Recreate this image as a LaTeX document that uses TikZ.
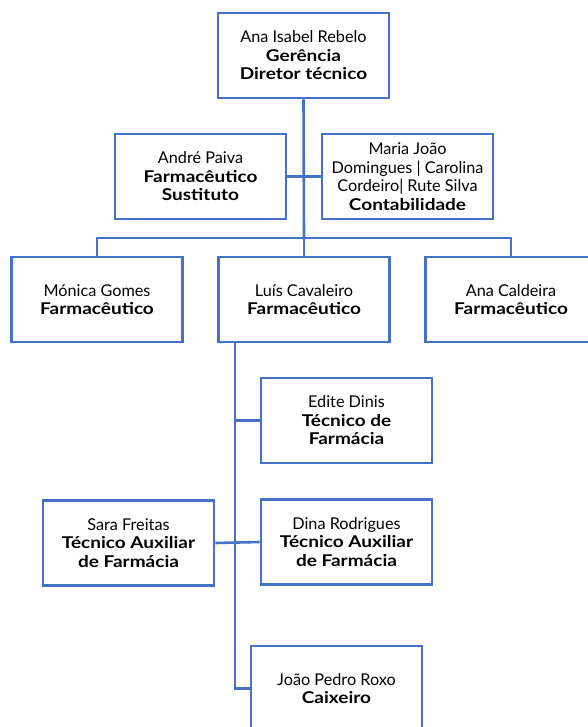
\documentclass[tikz,border=0pt]{standalone}
\usepackage{fontspec}
\setmainfont{Lato}[BoldFeatures={FakeStretch=1.17}]
\definecolor{orgblue}{HTML}{4472C4}

\begin{document}
\begin{tikzpicture}[x=1bp, y=-1bp,
  every node/.style={font=\fontsize{16.3}{18.5}\selectfont},
  box/.style={draw=orgblue, line width=2.6bp, fill=white, align=center,
    inner sep=2bp, minimum width=171bp, minimum height=85bp},
  link/.style={draw=orgblue, line width=2.6bp}]
  \useasboundingbox (0,0) rectangle (588,727);
  \clip (0,0) rectangle (588,727);

  % boxes
  \node[box] (top) at (303.5,55.5) {Ana Isabel Rebelo\\\textbf{Gerência}\\\textbf{Diretor técnico}};
  \node[box] (andre) at (200.5,176.5) {André Paiva\\\textbf{Farmacêutico}\\\textbf{Sustituto}};
  \node[box] (maria) at (407.5,176.5) {Maria João\\Domingues | Carolina\\Cordeiro| Rute Silva\\\textbf{Contabilidade}};
  \node[box] (monica) at (97,299.5) {Mónica Gomes\\\textbf{Farmacêutico}};
  \node[box] (luis) at (304,299.5) {Luís Cavaleiro\\\textbf{Farmacêutico}};
  \node[box] (anac) at (511,299.5) {Ana Caldeira\\\textbf{Farmacêutico}};
  \node[box] (edite) at (346.5,420.5) {Edite Dinis\\\textbf{Técnico de}\\\textbf{Farmácia}};
  \node[box] (sara) at (128.5,543) {Sara Freitas\\\textbf{Técnico Auxiliar}\\\textbf{de Farmácia}};
  \node[box] (dina) at (346.5,542) {Dina Rodrigues\\\textbf{Técnico Auxiliar}\\\textbf{de Farmácia}};
  \node[box] (joao) at (336.5,688.5) {João Pedro Roxo\\\textbf{Caixeiro}};

  % trunk
  \coordinate (split) at (304,238);
  \draw[link] (top.south) -- (split);
  \draw[link] (andre.east) -- (maria.west);

  % second row
  \draw[link] (monica.north) |- (split) -| (anac.north);
  \draw[link] (split) -- (luis.north);

  % under Luis
  \coordinate (sub) at (235,342);
  \draw[link] (sub) |- (joao.west);
  \draw[link] (sub |- edite.west) -- (edite.west);
  \draw[link] (sara.east) -- (dina.west);
\end{tikzpicture}
\end{document}
